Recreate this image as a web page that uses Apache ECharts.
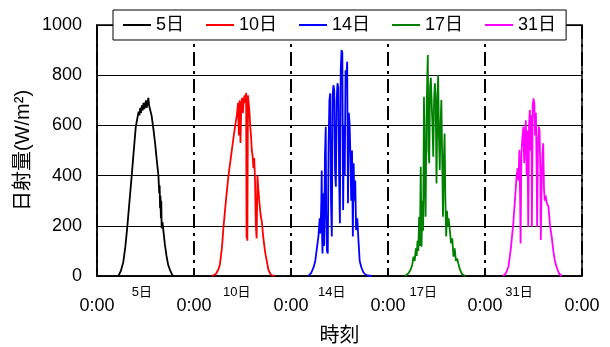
<!DOCTYPE html>
<html>
<head>
<meta charset="utf-8">
<script src="https://cdn.jsdelivr.net/npm/echarts@6/dist/echarts.min.js"></script>
<style>
  html, body { margin: 0; padding: 0; background: #fff; }
  #main { width: 610px; height: 347px; }
</style>
</head>
<body>
<div id="main"></div>
<script>
// 日ごとの日射量 (時刻[h], W/m2)
var dayNames = ['5日', '10日', '14日', '17日', '31日'];
var lineColor = ['#000000', '#ff0000', '#0000ff', '#008000', '#ff00ff'];
var xTickLabels = ['0:00', '0:00', '0:00', '0:00', '0:00', '0:00'];
var dayLabelAt = [11.1, 34.6, 58.1, 80.7, 104.4];

var hour05 = [5.3, 5.9, 6.5, 7.0, 7.5, 8.0, 8.6, 9.1, 9.6, 10.0, 10.3, 10.5, 10.7, 10.9, 11.1, 11.3, 11.5, 11.7, 11.9, 12.1, 12.3, 12.5, 12.7, 12.9, 13.1, 13.5, 14.0, 14.4, 14.8, 15.2, 15.4, 15.5, 15.6, 15.7, 15.8, 15.9, 16.0, 16.2, 16.5, 16.8, 17.2, 17.6, 18.1, 18.5, 18.9];
var val05 = [0, 20, 55, 115, 196, 290, 402, 500, 595, 630, 655, 640, 670, 650, 680, 660, 690, 665, 680, 700, 670, 690, 710, 680, 665, 640, 580, 525, 460, 400, 330, 360, 270, 320, 230, 300, 190, 215, 170, 125, 80, 45, 22, 8, 0];

var hour10 = [4.4, 5.4, 6.0, 6.4, 6.9, 7.3, 7.9, 8.5, 9.1, 9.7, 10.2, 10.6, 10.9, 11.1, 11.3, 11.5, 11.7, 11.9, 12.1, 12.3, 12.5, 12.7, 12.9, 13.0, 13.1, 13.2, 13.35, 13.5, 13.7, 13.9, 14.1, 14.3, 14.5, 14.7, 14.9, 15.1, 15.3, 15.5, 15.7, 15.9, 16.2, 16.5, 16.8, 17.1, 17.4, 17.7, 18.0, 18.4, 19.0, 20.0];
var val10 = [0, 8, 25, 45, 110, 196, 300, 396, 470, 542, 600, 640, 690, 560, 700, 530, 680, 710, 650, 700, 720, 690, 730, 150, 700, 140, 720, 715, 660, 600, 560, 502, 480, 430, 470, 380, 200, 150, 400, 350, 290, 240, 215, 160, 120, 85, 60, 25, 5, 0];

var hour14 = [4.3, 5.0, 5.6, 6.0, 6.4, 6.8, 7.1, 7.3, 7.5, 7.6, 7.7, 7.8, 8.0, 8.2, 8.4, 8.6, 8.7, 8.9, 9.1, 9.3, 9.5, 9.7, 9.9, 10.1, 10.3, 10.5, 10.7, 10.9, 11.1, 11.3, 11.5, 11.7, 11.9, 12.1, 12.3, 12.5, 12.7, 12.9, 13.1, 13.3, 13.5, 13.7, 13.9, 14.1, 14.3, 14.5, 14.7, 14.9, 15.1, 15.3, 15.5, 15.7, 15.9, 16.1, 16.4, 16.7, 17.0, 17.4, 17.9, 18.4, 19.0, 20.0];
var val14 = [0, 12, 35, 60, 110, 160, 230, 170, 300, 420, 150, 90, 330, 120, 480, 595, 250, 100, 90, 520, 700, 728, 300, 157, 720, 760, 740, 420, 356, 700, 768, 750, 400, 210, 820, 900, 890, 263, 600, 400, 820, 780, 854, 290, 650, 608, 480, 300, 500, 157, 449, 300, 380, 183, 230, 140, 60, 35, 15, 6, 2, 0];

var hour17 = [4.2, 5.0, 5.6, 6.0, 6.3, 6.6, 6.9, 7.1, 7.3, 7.5, 7.7, 7.9, 8.1, 8.3, 8.5, 8.7, 8.9, 9.1, 9.3, 9.5, 9.7, 9.85, 10.0, 10.2, 10.4, 10.6, 10.8, 11.0, 11.2, 11.4, 11.6, 11.8, 12.0, 12.2, 12.4, 12.6, 12.8, 13.0, 13.2, 13.4, 13.6, 13.8, 14.0, 14.2, 14.4, 14.6, 14.8, 15.0, 15.3, 15.6, 15.9, 16.2, 16.5, 16.8, 17.1, 17.4, 17.8, 18.3, 19.1];
var val17 = [0, 10, 25, 45, 77, 60, 110, 80, 140, 100, 236, 120, 435, 117, 300, 180, 714, 400, 236, 600, 781, 880, 500, 449, 750, 790, 794, 600, 475, 700, 768, 720, 369, 650, 801, 560, 422, 600, 701, 480, 236, 450, 568, 300, 157, 260, 200, 230, 183, 130, 150, 77, 110, 60, 70, 50, 25, 8, 0];

var hour31 = [4.5, 5.2, 5.8, 6.4, 7.0, 7.4, 7.8, 8.1, 8.3, 8.5, 8.7, 8.8, 9.0, 9.2, 9.5, 9.7, 9.9, 10.1, 10.3, 10.5, 10.7, 10.9, 11.1, 11.3, 11.5, 11.6, 11.8, 12.0, 12.2, 12.4, 12.6, 12.8, 12.9, 13.1, 13.3, 13.5, 13.7, 13.8, 14.0, 14.2, 14.4, 14.6, 14.8, 15.0, 15.3, 15.7, 16.1, 16.5, 16.9, 17.3, 17.7, 18.3, 19.0];
var val31 = [0, 12, 37, 110, 210, 300, 396, 430, 380, 502, 300, 130, 480, 540, 595, 450, 560, 620, 400, 580, 196, 600, 661, 500, 640, 196, 680, 708, 690, 560, 650, 400, 196, 520, 595, 580, 400, 143, 350, 480, 529, 343, 300, 320, 290, 276, 200, 157, 100, 60, 37, 10, 0];

var hours = [hour05, hour10, hour14, hour17, hour31];
var values = [val05, val10, val14, val17, val31];

var font = '"Liberation Sans", "Noto Sans CJK JP", sans-serif';

var series = dayNames.map(function (name, i) {
    var data = hours[i].map(function (h, k) {
        return [h + i * 24, values[i][k]];
    });
    return {
        name: name,
        type: 'line',
        xAxisIndex: 0,
        symbol: 'none',
        data: data,
        lineStyle: { color: lineColor[i], width: 1.8 },
        itemStyle: { color: lineColor[i] }
    };
});

var myChart = echarts.init(document.getElementById('main'));
var option = {
    animation: false,
    textStyle: { fontFamily: font },
    grid: {
        left: 97, right: 28, top: 25, bottom: 71,
        outerBoundsMode: 'none',
        show: true, borderColor: '#000', borderWidth: 1.5, backgroundColor: 'transparent'
    },
    legend: {
        data: dayNames,
        left: 113, top: 10,
        padding: [6, 10],
        itemGap: 22,
        icon: 'rect',
        itemWidth: 28, itemHeight: 2,
        backgroundColor: '#fff',
        borderColor: '#000', borderWidth: 1,
        textStyle: { fontSize: 18, color: '#000', fontFamily: font }
    },
    xAxis: [
        {
            type: 'value',
            min: 0, max: 120, interval: 24,
            name: '時刻',
            nameLocation: 'middle',
            nameGap: 50,
            nameTextStyle: { fontSize: 20, color: '#000', fontFamily: font },
            axisLine: { lineStyle: { color: '#000', width: 1.5 } },
            axisTick: { inside: true, length: 4, lineStyle: { color: '#000' } },
            axisLabel: {
                fontSize: 18, color: '#000', margin: 21, fontFamily: font,
                formatter: function (v) { return xTickLabels[Math.round(v / 24)]; }
            },
            splitLine: { show: true, lineStyle: { color: '#000', width: 2, type: [14, 5, 3, 5] } }
        },
        {
            type: 'value',
            position: 'bottom',
            min: 0, max: 120,
            axisLine: { show: false },
            axisTick: { show: false },
            splitLine: { show: false },
            axisLabel: {
                customValues: dayLabelAt,
                fontSize: 13, color: '#000', margin: 10, fontFamily: font,
                formatter: function (v) { return dayNames[dayLabelAt.indexOf(v)]; }
            }
        }
    ],
    yAxis: {
        type: 'value',
        min: 0, max: 1000, interval: 200,
        name: '日射量(W/m²)',
        nameLocation: 'middle',
        nameMoveOverlap: false,
        nameGap: 64,
        nameTextStyle: { fontSize: 20, color: '#000', fontFamily: font },
        axisLine: { show: true, lineStyle: { color: '#000', width: 1.5 } },
        axisTick: { show: false },
        axisLabel: {
            fontSize: 18, color: '#000', margin: 15, fontFamily: font,
            formatter: function (v) { return String(v); }
        },
        splitLine: { lineStyle: { color: '#000', width: 1 } }
    },
    series: series
};
myChart.setOption(option);
</script>
</body>
</html>
